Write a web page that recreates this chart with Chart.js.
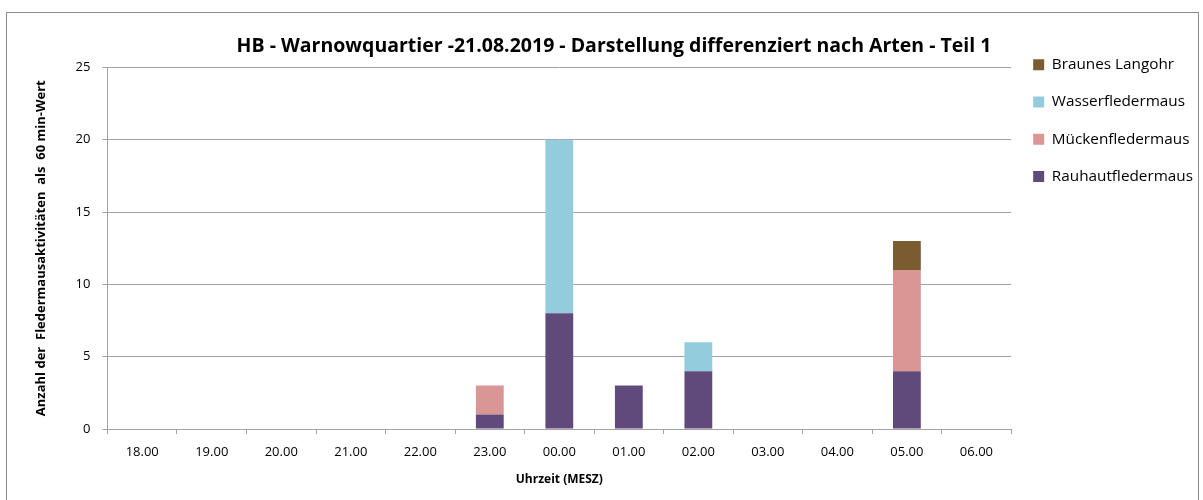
<!DOCTYPE html>
<html>
<head>
<meta charset="utf-8">
<script src="https://cdn.jsdelivr.net/npm/chart.js@4"></script>
<style>
  html, body { margin: 0; padding: 0; background: #fff; }
  #wrap { width: 1203px; height: 500px; }
</style>
</head>
<body>
<div id="wrap"><canvas id="ch" width="1203" height="500"></canvas></div>
<script>
// ── Daten ────────────────────────────────────────────────────────────────
const hours = ['18.00', '19.00', '20.00', '21.00', '22.00', '23.00', '00.00',
               '01.00', '02.00', '03.00', '04.00', '05.00', '06.00'];
const rauhaut  = [0, 0, 0, 0, 0, 1, 8, 3, 4, 0, 0, 4, 0];
const muecken  = [0, 0, 0, 0, 0, 2, 0, 0, 0, 0, 0, 7, 0];
const wasser   = [0, 0, 0, 0, 0, 0, 12, 0, 2, 0, 0, 0, 0];
const langohr  = [0, 0, 0, 0, 0, 0, 0, 0, 0, 0, 0, 2, 0];

const FONT = '"Open Sans", Lato, sans-serif';
const GRID = '#a3a3a3';

// Rahmen um das ganze Diagramm
const frame = {
    id: 'frame',
    beforeDraw(chart) {
        const c = chart.ctx;
        c.save();
        c.fillStyle = '#fff';
        c.fillRect(0, 0, chart.width, chart.height);
        c.strokeStyle = '#8c8c8c';
        c.lineWidth = 1;
        c.strokeRect(6.5, 12.5, chart.width - 11, chart.height - 9);
        c.restore();
    },
};

const ds = (label, data, color) => ({
    label, data, backgroundColor: color, borderWidth: 0,
    barPercentage: 0.8, categoryPercentage: 0.5,
});

new Chart(document.getElementById('ch'), {
    type: 'bar',
    data: {
        labels: hours,
        datasets: [
            ds('Rauhautfledermaus', rauhaut, '#604a7b'),
            ds('Mückenfledermaus',  muecken, '#d99694'),
            ds('Wasserfledermaus',  wasser,  '#93cddd'),
            ds('Braunes Langohr',   langohr, '#7a5c30'),
        ],
    },
    options: {
        responsive: false, animation: false,
        layout: { padding: { left: 25, right: 0, top: 35, bottom: 13 } },
        plugins: {
            title: {
                display: true,
                text: 'HB - Warnowquartier -21.08.2019 - Darstellung differenziert nach Arten - Teil 1',
                color: '#000',
                font: { family: FONT, size: 19.5, weight: 'bold' },
                padding: { top: 0, bottom: 9 },
            },
            legend: {
                position: 'right', align: 'start', reverse: true,
                labels: {
                    color: '#000', boxWidth: 11, boxHeight: 11, padding: 22,
                    font: { family: FONT, size: 15.3 },
                },
            },
            tooltip: { enabled: false },
        },
        scales: {
            x: {
                stacked: true,
                border: { color: GRID, width: 1 },
                grid: { offset: true, drawOnChartArea: false, color: GRID, tickLength: 5 },
                ticks: { color: '#000', font: { family: FONT, size: 13 }, padding: 10, maxRotation: 0 },
                title: {
                    display: true, text: 'Uhrzeit (MESZ)', color: '#000',
                    font: { family: FONT, size: 12, weight: 'bold' }, padding: { top: 3, bottom: 0 },
                },
            },
            y: {
                stacked: true, min: 0, max: 25,
                border: { color: GRID, width: 1 },
                grid: { color: GRID, tickLength: 5 },
                ticks: { stepSize: 5, color: '#000', font: { family: FONT, size: 13 }, padding: 12 },
                title: {
                    display: true, text: 'Anzahl der  Fledermausaktivitäten  als  60 min-Wert', color: '#000',
                    font: { family: FONT, size: 13, weight: 'bold' }, padding: { top: 8, bottom: 15 },
                },
            },
        },
    },
    plugins: [frame],
});
</script>
</body>
</html>
